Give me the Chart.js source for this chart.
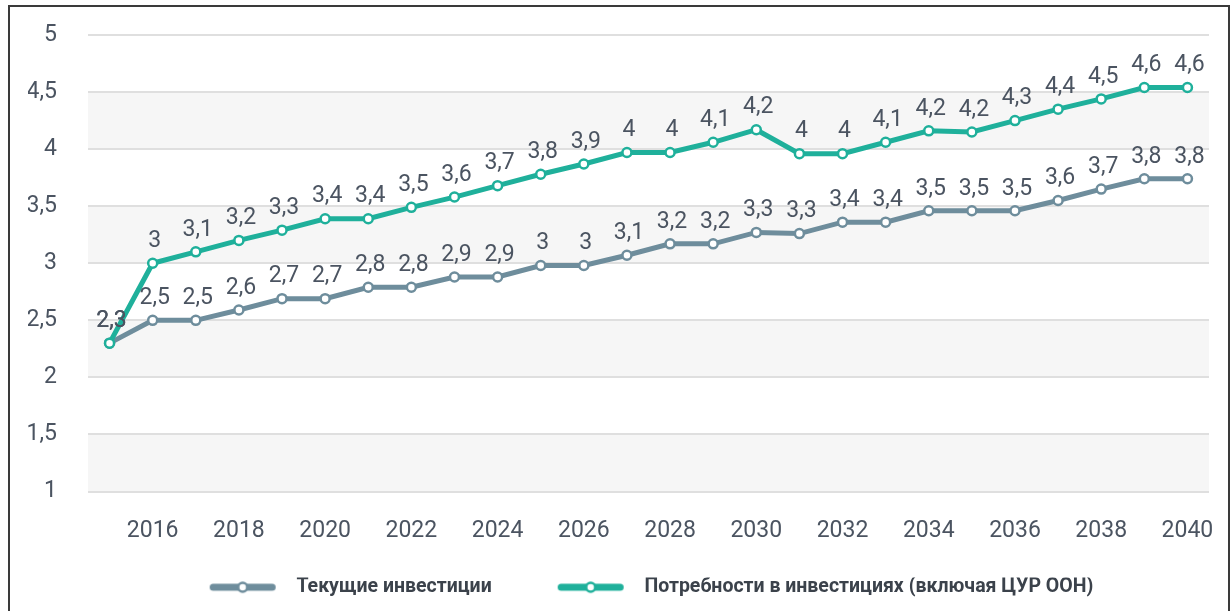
<!DOCTYPE html>
<html lang="ru">
<head>
<meta charset="UTF-8">
<title>Инвестиции</title>
<script src="https://cdn.jsdelivr.net/npm/chart.js"></script>
<style>
  body { margin: 0; background: #fff; overflow: hidden; }
  .wrap { position: absolute; left: 0; top: 0; width: 1232px; height: 611px; }
  .frame { position: absolute; left: 8px; top: 5px; width: 1222px; height: 640px; border: 2px solid #3a3a3a; box-sizing: border-box; pointer-events: none; }
</style>
</head>
<body>
<div class="wrap"><canvas id="grafico"></canvas></div>
<div class="frame"></div>
<script>
const anos = [2015, 2016, 2017, 2018, 2019, 2020, 2021, 2022, 2023, 2024, 2025, 2026, 2027,
              2028, 2029, 2030, 2031, 2032, 2033, 2034, 2035, 2036, 2037, 2038, 2039, 2040];

// Текущие инвестиции
const tekushie = [2.30, 2.50, 2.50, 2.59, 2.69, 2.69, 2.79, 2.79, 2.88, 2.88, 2.98, 2.98, 3.07,
                  3.17, 3.17, 3.27, 3.26, 3.36, 3.36, 3.46, 3.46, 3.46, 3.55, 3.65, 3.74, 3.74];
const rotulosTek = ["2,3", "2,5", "2,5", "2,6", "2,7", "2,7", "2,8", "2,8", "2,9", "2,9", "3", "3", "3,1",
                    "3,2", "3,2", "3,3", "3,3", "3,4", "3,4", "3,5", "3,5", "3,5", "3,6", "3,7", "3,8", "3,8"];

// Потребности в инвестициях (включая ЦУР ООН)
const potrebnosti = [2.30, 3.00, 3.10, 3.20, 3.29, 3.39, 3.39, 3.49, 3.58, 3.68, 3.78, 3.87, 3.97,
                     3.97, 4.06, 4.17, 3.96, 3.96, 4.06, 4.16, 4.15, 4.25, 4.35, 4.44, 4.54, 4.54];
const rotulosPot = ["2,3", "3", "3,1", "3,2", "3,3", "3,4", "3,4", "3,5", "3,6", "3,7", "3,8", "3,9", "4",
                    "4", "4,1", "4,2", "4", "4", "4,1", "4,2", "4,2", "4,3", "4,4", "4,5", "4,6", "4,6"];

const bandas = [[4, 4.5], [3, 3.5], [2, 2.5], [1, 1.5]];

const corTeal = "#1fb09b";
const corCinza = "#6e8d9c";
const corTexto = "#4b5461";
const fonte = "Roboto, sans-serif";

function marcador(cor) {
  // legend swatch: empty space on the left, line with a ring, small gap on the right
  const c = document.createElement("canvas");
  c.width = 143; c.height = 16;
  const ctx = c.getContext("2d");
  ctx.strokeStyle = cor;
  ctx.lineWidth = 7;
  ctx.lineCap = "round";
  ctx.beginPath();
  ctx.moveTo(69.5, 8); ctx.lineTo(128.5, 8);
  ctx.stroke();
  ctx.beginPath();
  ctx.arc(99, 8, 4.5, 0, Math.PI * 2);
  ctx.fillStyle = "#fff";
  ctx.fill();
  ctx.lineWidth = 2.5;
  ctx.stroke();
  return c;
}

const fundoBandas = {
  id: "fundoBandas",
  beforeDraw(chart) {
    const { ctx, chartArea, scales } = chart;
    ctx.save();
    ctx.fillStyle = "#f6f6f6";
    for (var i = 0; i < bandas.length; i++) {
      const topo = scales.y.getPixelForValue(bandas[i][1]);
      const base = scales.y.getPixelForValue(bandas[i][0]);
      ctx.fillRect(chartArea.left, topo, chartArea.right - chartArea.left, base - topo);
    }
    ctx.restore();
  }
};

const rotulosPontos = {
  id: "rotulosPontos",
  afterDatasetsDraw(chart) {
    const ctx = chart.ctx;
    ctx.save();
    ctx.font = "23px " + fonte;
    ctx.fillStyle = corTexto;
    ctx.textAlign = "center";
    ctx.textBaseline = "middle";
    chart.data.datasets.forEach((ds, di) => {
      const meta = chart.getDatasetMeta(di);
      meta.data.forEach((p, i) => {
        ctx.fillText(ds.rotulos[i], p.x + 2, p.y - 22);
      });
    });
    ctx.restore();
  }
};

const ctx = document.getElementById("grafico").getContext("2d");
new Chart(ctx, {
  type: "line",
  data: {
    labels: anos,
    datasets: [
      {
        label: "Потребности в инвестициях (включая ЦУР ООН)",
        data: potrebnosti,
        rotulos: rotulosPot,
        borderColor: corTeal,
        backgroundColor: "#fff",
        borderWidth: 5,
        pointRadius: 4.5,
        pointBorderWidth: 2.5,
        pointBackgroundColor: "#fff",
        pointBorderColor: corTeal,
        tension: 0
      },
      {
        label: "Текущие инвестиции",
        data: tekushie,
        rotulos: rotulosTek,
        borderColor: corCinza,
        backgroundColor: "#fff",
        borderWidth: 5,
        pointRadius: 4.5,
        pointBorderWidth: 2.5,
        pointBackgroundColor: "#fff",
        pointBorderColor: corCinza,
        tension: 0
      }
    ]
  },
  options: {
    responsive: true,
    maintainAspectRatio: false,
    animation: false,
    layout: { padding: { left: 28, right: 23, top: 35, bottom: 4 } },
    scales: {
      x: {
        offset: true,
        grid: { display: false },
        border: { display: false },
        ticks: {
          autoSkip: false,
          maxRotation: 0,
          padding: 18,
          color: corTexto,
          font: { family: fonte, size: 23 },
          callback: function (v, i) { return anos[i] % 2 === 0 ? String(anos[i]) : ""; }
        },
        afterFit(scale) {
          scale.height = 86;
          scale.paddingLeft = 0;
          scale.paddingRight = 0;
        }
      },
      y: {
        min: 1,
        max: 5,
        border: { display: false },
        grid: { color: "#dfdfdf", lineWidth: 2, drawTicks: false },
        ticks: {
          stepSize: 0.5,
          padding: 31,
          color: corTexto,
          font: { family: fonte, size: 23 },
          callback: v => String(v).replace(".", ",")
        },
        afterFit(scale) {
          scale.width = 60;
          scale.paddingTop = 0;
          scale.paddingBottom = 0;
        }
      }
    },
    plugins: {
      tooltip: { enabled: false },
      legend: {
        position: "bottom",
        reverse: true,
        labels: {
          usePointStyle: true,
          pointStyleWidth: 143,
          padding: 0,
          color: "#3b424b",
          font: { family: fonte, size: 19.5, weight: "bold" },
          generateLabels(chart) {
            return chart.data.datasets.map((ds, i) => ({
              text: ds.label,
              pointStyle: marcador(ds.borderColor),
              fontColor: "#3b424b",
              datasetIndex: i,
              hidden: false,
              lineWidth: 0,
              strokeStyle: "transparent",
              fillStyle: "transparent"
            }));
          }
        }
      }
    }
  },
  plugins: [fundoBandas, rotulosPontos]
});
</script>
</body>
</html>
